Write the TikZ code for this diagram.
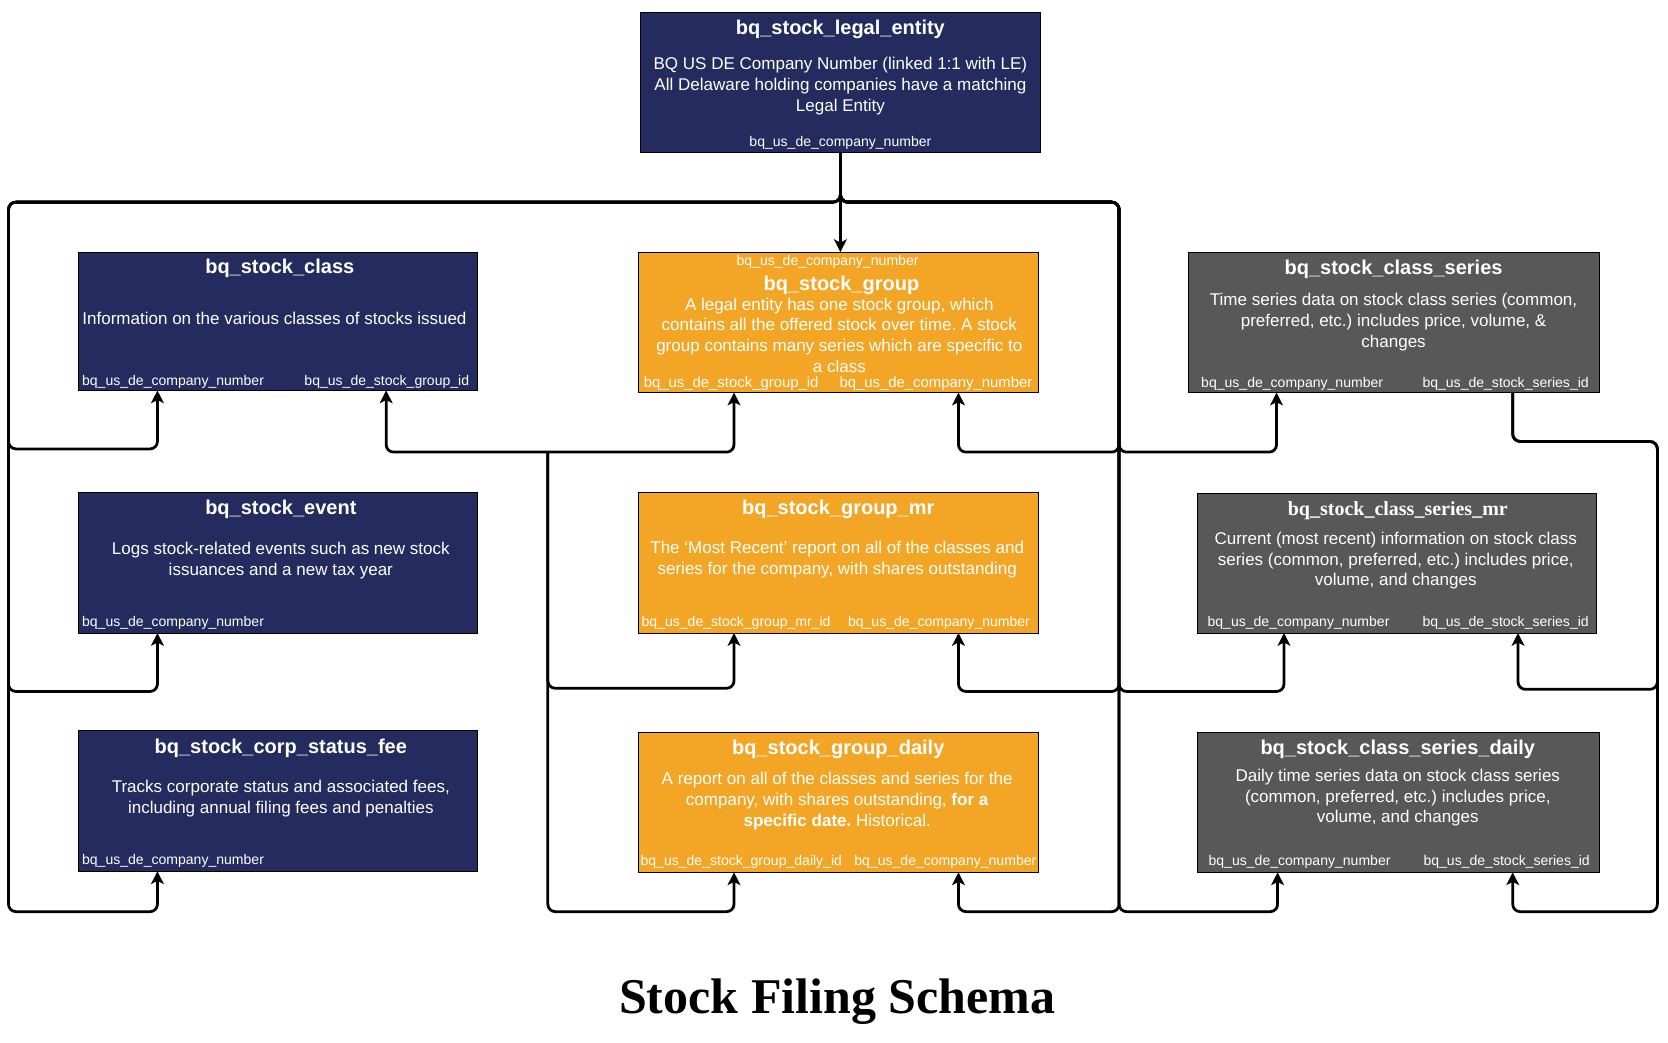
\documentclass[tikz,border=0pt]{standalone}
\usepackage{fontspec}
\setmainfont{Liberation Sans}
\newfontfamily\serifface{Liberation Serif}
\usetikzlibrary{arrows.meta}
\definecolor{navybox}{HTML}{242B5E}
\definecolor{amberbox}{HTML}{F3A626}
\definecolor{slatebox}{HTML}{585858}
\frenchspacing
\tikzset{
 tbl/.style={draw=black, line width=0.7pt, anchor=north west, inner sep=0pt, outer sep=0pt},
 ttl/.style={text=white, font=\bfseries\fontsize{18.8}{22}\selectfont, inner sep=0pt, yshift=-2pt},
 sttl/.style={text=white, font=\serifface\bfseries\fontsize{18.8}{22}\selectfont, inner sep=0pt, yshift=-2pt},
 bodytxt/.style={text=white, align=center, font=\fontsize{16}{19.5}\selectfont, inner sep=0pt, yshift=-2pt},
 fld/.style={text=white, font=\fontsize{13.2}{15}\selectfont, inner sep=0pt, anchor=west, yshift=-1.5pt},
 bfld/.style={text=white, font=\fontsize{14}{16}\selectfont, inner sep=0pt, anchor=west, yshift=-1.5pt},
 wire/.style={line width=2.6pt, rounded corners=7pt},
 tip/.style={-{Stealth[length=12pt,width=12pt,inset=3pt]}},
 tips/.style={{Stealth[length=12pt,width=12pt,inset=3pt]}-{Stealth[length=12pt,width=12pt,inset=3pt]}},
}
\begin{document}
\begin{tikzpicture}[x=1pt,y=-1pt]
\useasboundingbox (0,0) rectangle (1568,980);
\fill[white] (0,0) rectangle (1568,980);

% ---------- boxes ----------
\node[tbl, fill=navybox, minimum width=376pt, minimum height=131pt] (le) at (602,12) {};
\node[ttl] (le-t) at (790,26) {bq\_stock\_legal\_entity};
\node[bodytxt] (le-b) at (790,79) {BQ US DE Company Number (linked 1:1 with LE)\\All Delaware holding companies have a matching\\Legal Entity};
\node[fld, anchor=center] (le-f) at (790,133) {bq\_us\_de\_company\_number};

\node[tbl, fill=navybox, minimum width=375pt, minimum height=130pt] (cls) at (74,237) {};
\node[ttl] (cls-t) at (263,250) {bq\_stock\_class};
\node[bodytxt] (cls-b) at (258,297) {Information on the various classes of stocks issued};
\node[fld] (cls-f1) at (77,357) {bq\_us\_de\_company\_number};
\node[fld] (cls-f2) at (286,357) {bq\_us\_de\_stock\_group\_id};

\node[tbl, fill=amberbox, minimum width=376pt, minimum height=132pt] (grp) at (600,237) {};
\node[fld, anchor=center] (grp-f0) at (778,245) {bq\_us\_de\_company\_number};
\node[ttl] (grp-t) at (791,266) {bq\_stock\_group};
\node[bodytxt] (grp-b) at (789,313) {A legal entity has one stock group, which\\contains all the offered stock over time. A stock\\group contains many series which are specific to\\a class};
\node[bfld] (grp-f1) at (605,359) {bq\_us\_de\_stock\_group\_id};
\node[bfld] (grp-f2) at (789,359) {bq\_us\_de\_company\_number};

\node[tbl, fill=slatebox, minimum width=386pt, minimum height=132pt] (cs) at (1117,237) {};
\node[ttl] (cs-t) at (1310,251) {bq\_stock\_class\_series};
\node[bodytxt] (cs-b) at (1310,301) {Time series data on stock class series (common,\\preferred, etc.) includes price, volume, \&\\changes};
\node[fld] (cs-f1) at (1129,359) {bq\_us\_de\_company\_number};
\node[fld] (cs-f2) at (1337,359) {bq\_us\_de\_stock\_series\_id};

\node[tbl, fill=navybox, minimum width=375pt, minimum height=132pt] (ev) at (74,463) {};
\node[ttl] (ev-t) at (264,477) {bq\_stock\_event};
\node[bodytxt] (ev-b) at (264,525) {Logs stock-related events such as new stock\\issuances and a new tax year};
\node[fld] (ev-f1) at (77,584) {bq\_us\_de\_company\_number};

\node[tbl, fill=amberbox, minimum width=376pt, minimum height=132pt] (gmr) at (600,463) {};
\node[ttl] (gmr-t) at (788,477) {bq\_stock\_group\_mr};
\node[bodytxt] (gmr-b) at (787,524) {The ‘Most Recent’ report on all of the classes and\\series for the company, with shares outstanding};
\node[fld] (gmr-f1) at (603,584) {bq\_us\_de\_stock\_group\_mr\_id};
\node[fld] (gmr-f2) at (797,584) {bq\_us\_de\_company\_number};

\node[tbl, fill=slatebox, minimum width=375pt, minimum height=131pt] (csmr) at (1126,464) {};
\node[sttl] (csmr-t) at (1314,478) {bq\_stock\_class\_series\_mr};
\node[bodytxt] (csmr-b) at (1312,525) {Current (most recent) information on stock class\\series (common, preferred, etc.) includes price,\\volume, and changes};
\node[fld] (csmr-f1) at (1135,584) {bq\_us\_de\_company\_number};
\node[fld] (csmr-f2) at (1337,584) {bq\_us\_de\_stock\_series\_id};

\node[tbl, fill=navybox, minimum width=375pt, minimum height=132pt] (corp) at (74,687) {};
\node[ttl] (corp-t) at (264,701) {bq\_stock\_corp\_status\_fee};
\node[bodytxt] (corp-b) at (264,749) {Tracks corporate status and associated fees,\\including annual filing fees and penalties};
\node[fld] (corp-f1) at (77,808) {bq\_us\_de\_company\_number};

\node[tbl, fill=amberbox, minimum width=376pt, minimum height=132pt] (gd) at (600,688) {};
\node[ttl] (gd-t) at (788,702) {bq\_stock\_group\_daily};
\node[bodytxt] (gd-b) at (787,751) {A report on all of the classes and series for the\\company, with shares outstanding, \textbf{for a}\\\textbf{specific date.} Historical.};
\node[fld] (gd-f1) at (602,809) {bq\_us\_de\_stock\_group\_daily\_id};
\node[fld] (gd-f2) at (803,809) {bq\_us\_de\_company\_number};

\node[tbl, fill=slatebox, minimum width=377pt, minimum height=132pt] (csd) at (1126,688) {};
\node[ttl] (csd-t) at (1314,702) {bq\_stock\_class\_series\_daily};
\node[bodytxt] (csd-b) at (1314,748) {Daily time series data on stock class series\\(common, preferred, etc.) includes price,\\volume, and changes};
\node[fld] (csd-f1) at (1136,809) {bq\_us\_de\_company\_number};
\node[fld] (csd-f2) at (1338,809) {bq\_us\_de\_stock\_series\_id};

\node (title) at (787,942) {\serifface\bfseries\fontsize{47}{50}\selectfont Stock Filing Schema};

% ---------- ports ----------
\coordinate (cls-p1) at (148,367);
\coordinate (cls-p2) at (363,367);
\coordinate (grp-p1) at (690,369);
\coordinate (grp-p2) at (901,369);
\coordinate (cs-p1) at (1200,369);
\coordinate (cs-p2) at (1422,369);
\coordinate (ev-p1) at (148,595);
\coordinate (gmr-p1) at (690,595);
\coordinate (gmr-p2) at (901,595);
\coordinate (csmr-p1) at (1207,595);
\coordinate (csmr-p2) at (1427,595);
\coordinate (corp-p1) at (148,819);
\coordinate (gd-p1) at (690,820);
\coordinate (gd-p2) at (901,820);
\coordinate (csd-p1) at (1201,820);
\coordinate (csd-p2) at (1422,820);
\coordinate (ja) at (790,190);
\coordinate (jb) at (515,425);
\coordinate (jc) at (1422,415);

% ---------- connectors ----------
\draw[wire,tip] (le.south) -- (le.south |- grp.north);
\draw[wire,tip] (le.south) -- (ja) -- (8,190) -- (8,422) -- (148,422) -- (cls-p1);
\draw[wire,tip] (le.south) -- (ja) -- (8,190) -- (8,650) -- (148,650) -- (ev-p1);
\draw[wire,tip] (le.south) -- (ja) -- (8,190) -- (8,857) -- (148,857) -- (corp-p1);
\draw[wire,tip] (le.south) -- (ja) -- (1052,190) -- (1052,425) -- (901,425) -- (grp-p2);
\draw[wire,tip] (le.south) -- (ja) -- (1052,190) -- (1052,425) -- (1200,425) -- (cs-p1);
\draw[wire,tip] (le.south) -- (ja) -- (1052,190) -- (1052,650) -- (901,650) -- (gmr-p2);
\draw[wire,tip] (le.south) -- (ja) -- (1052,190) -- (1052,650) -- (1207,650) -- (csmr-p1);
\draw[wire,tip] (le.south) -- (ja) -- (1052,190) -- (1052,857) -- (901,857) -- (gd-p2);
\draw[wire,tip] (le.south) -- (ja) -- (1052,190) -- (1052,857) -- (1201,857) -- (csd-p1);

\draw[wire,tips] (cls-p2) -- (363,425) -- (690,425) -- (grp-p1);
\draw[wire,tip] (jb) -- (515,647) -- (690,647) -- (gmr-p1);
\draw[wire,tip] (jb) -- (515,857) -- (690,857) -- (gd-p1);

\draw[wire,tip] (cs-p2) -- (jc) -- (1558,415) -- (1558,648) -- (1427,648) -- (csmr-p2);
\draw[wire,tip] (cs-p2) -- (jc) -- (1558,415) -- (1558,857) -- (1422,857) -- (csd-p2);
\end{tikzpicture}
\end{document}
